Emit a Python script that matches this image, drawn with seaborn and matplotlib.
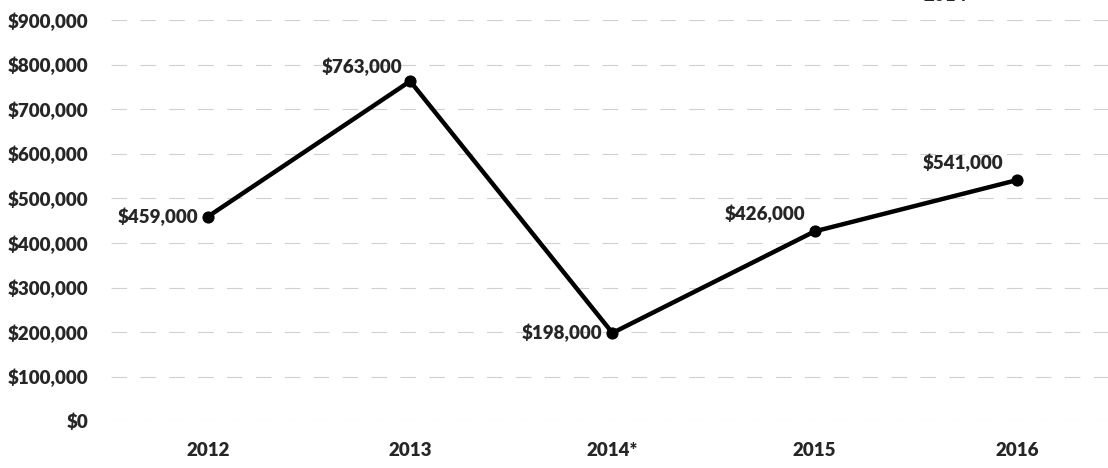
import matplotlib
matplotlib.use("Agg")
import matplotlib.pyplot as plt
import seaborn as sns
import pandas as pd

# Chart data
years = ["2012", "2013", "2014*", "2015", "2016"]
amounts = [459000, 763000, 198000, 426000, 541000]
y_ticks = [0, 100000, 200000, 300000, 400000, 500000, 600000, 700000, 800000, 900000]

df = pd.DataFrame({"year": years, "amount": amounts})

sns.set_style("white")
plt.rcParams["font.family"] = ["Lato", "DejaVu Sans"]
plt.rcParams["font.weight"] = "heavy"

fig = plt.figure(figsize=(11.08, 4.68), dpi=100)
ax = fig.add_axes([0.1, 0.1, 0.9, 0.857])

sns.lineplot(
    data=df,
    x="year",
    y="amount",
    color="black",
    linewidth=3.2,
    marker="o",
    markersize=8,
    markeredgecolor="black",
    ax=ax,
    sort=False,
)

# Data labels
offsets = [(-7, 0, "right", "center"),
           (-6, 4, "right", "bottom"),
           (-7, 0, "right", "center"),
           (-7, 6, "right", "bottom"),
           (-10, 6, "right", "bottom")]
for i, (yr, val) in enumerate(zip(years, amounts)):
    dx, dy, ha, va = offsets[i]
    ax.annotate(f"${val:,.0f}", (i, val), xytext=(dx, dy), textcoords="offset points",
                ha=ha, va=va, fontsize=13.5, fontweight="heavy")

ax.set_xlim(-0.48, 4.45)
ax.set_ylim(0, 900000)
ax.set_yticks(y_ticks)
ax.set_yticklabels([f"${v:,.0f}" for v in y_ticks])
ax.tick_params(axis="y", length=0, pad=16, labelsize=13.5)
ax.tick_params(axis="x", length=0, pad=15, labelsize=13.5)
for lbl in ax.get_xticklabels() + ax.get_yticklabels():
    lbl.set_fontweight("heavy")

ax.set_xlabel("")
ax.set_ylabel("")
for s in ax.spines.values():
    s.set_visible(False)
ax.yaxis.grid(True, color="#d0d0d0", linewidth=0.8, linestyle=(0, (14, 12)))
ax.set_axisbelow(True)
for line in ax.lines:
    line.set_clip_on(False)

# Cut-off title fragment at the top edge
fig.text(0.853, 1.01, "2014", ha="center", va="center", fontsize=13.5, fontweight="heavy")

fig.savefig("out.png", dpi=100)
